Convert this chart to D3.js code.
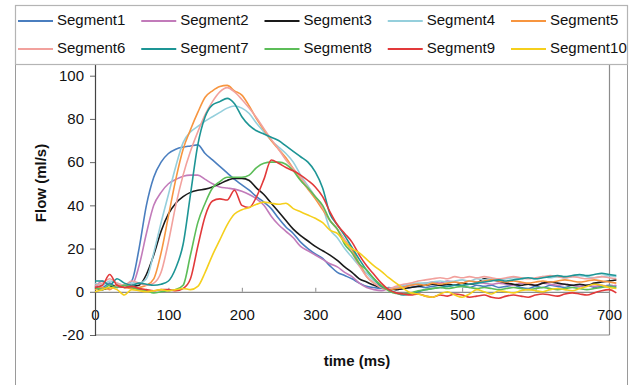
<!DOCTYPE html>
<html>
<head>
<meta charset="utf-8">
<script src="https://cdn.jsdelivr.net/npm/d3@7"></script>
<style>
  html, body { margin: 0; padding: 0; background: #fff; }
  svg { display: block; font-family: "Liberation Sans", Arial, sans-serif; }
</style>
</head>
<body>
<svg id="chart" width="639" height="385"></svg>
<script>
// ---- Data ----
const timeMs = d3.range(0, 711, 10);

const segment1 = [3,2,4,2,3,5,20,40,53,60,64,66,67,67.5,68,64,61,58,55,52,49.5,47,44,41.5,38.5,34,30,27,23,20,17.5,15.5,12,9,7.5,6,4,2.5,2,1.5,2,1,1.5,2,2.5,2,2.5,3,2.5,3,2.5,2,3,2.5,3,2,2.5,3,2,1.5,2.5,2,3,2.5,2,3,2.5,3,2,2.5,3,2.5];
const segment2 = [2,5,3,2,3,3,12,27,40,46,50,52,53.5,54,54,52,50,48.5,48,47.5,46.5,45,43,40,35,31,28,25,21,19,17,15,13,11.5,9,7,4,2,1,0.5,1.5,2,2.5,3,3.5,4,4.5,4,5,4.5,4,5,4.5,4,3.5,4,3.5,3,4,3.5,3,4,3.5,3,3.5,3,2.5,3,2.5,3,2.5,3];
const segment3 = [2,1,2,3,2,2.5,3,8,17,28,36,41,44,46,47,47.5,48.5,50,51.5,52.5,52.5,51.5,48,45,41,37,33,29,26,23.5,21,19,17,14.5,11.5,9,6,4.5,3,2,1.5,1,1.5,2,2.5,3,3.5,3,3.5,3,4,3.5,4,6,5.5,5,4,3.5,3,3.5,3,4,4.5,4,3.5,3,3.5,3,4,4.5,5,5.5];
const segment4 = [4,3,5,4,3,4,4,6,18,32,45,58,69,74,76.5,79,81,83,85,86,85,82.5,78,74,70,67,64,60,54,49,44,39,29,25,20,16,12,8.5,5,2.5,1.5,2,3,3.5,4,4,4.5,5,4.5,5,5.5,5,6,5.5,6,5.5,6,6.5,6,6.5,6,7,6.5,7,6.5,7,7.5,7,6.5,7,7.5,7];
const segment5 = [1,2,1,3,2,1.5,2,3,6,18,35,52,66,75,83,90,93,95,95.5,93,91,86,80,75,70,66,62,57,52,47.5,43,38,33,29,24,19.5,13,7,4,2,1,1.5,2,3,3.5,3,4,3.5,4,4.5,4,5,4.5,5,5.5,5,4.5,5,4.5,4,4.5,5,4.5,5,5.5,5,4.5,5,5.5,5,4.5,4];
const segment6 = [3,4,6,4,3,5,4,3,4,9,23,40,54,65,74,82,88,92.5,94.5,92.5,89,85,80.5,75.5,70.5,66,61,57,53,48,44,39,33,29,24,18,12,7,4,2,1.5,2.5,3.5,4,5,5.5,6,6.5,6,7,6.5,7,6.5,7,6.5,6,6.5,7,6.5,6,6.5,7,7.5,7,6.5,7,6.5,6,6.5,7,6.5,6];
const segment7 = [5,5,3,6,4,3,4,3.5,3,3.5,5,11,22,45,68,81,86.5,88,89.5,87,81,77,74.5,73,71.5,70,67.5,65,62.5,60,55.5,48,36,31,26,20.5,15,10,6,2.5,1,-0.5,-1.5,-1,0,1,1.5,2,2.5,3,3,3.5,4,4.5,5,5.5,5,5.5,6,6.5,6,6.5,7,7.5,7,7.5,8,7.5,8,8.5,8,7.5];
const segment8 = [2,1,3,2,3,2,1,0.5,-0.5,0,0.5,1,3,17,32,41,48,51,53,53,53,54,57.5,59.5,60,60,59,56,51.5,48,44,40,33,29,22,18,13,10,6,3,0.5,-0.8,-1,-0.5,0.5,1,1.5,2,1.5,2,2.5,2,1.5,2,1.5,1,1.5,2,1.5,1,1.5,2,1.5,1,1.5,2,1.5,1,1.5,2,2.5,2];
const segment9 = [2,3,8,3,2,2.5,1.5,1,0.5,1,1,0.5,1.5,6,21,35,42,43,42.5,47,40,39,44,52,61,59.5,57.5,56,54,51.5,48.5,44,37,31,27,23,17,12,8,4,1,-0.5,-1,-1.5,-1,-2,-2.5,-1.5,-2,-1,-1.5,-2.5,-2,-1.5,-2.5,-3,-2,-1.5,-2,-2.5,-1.5,-1,-1.5,-2,-1,-0.5,-1,-1.5,-0.5,0.5,1,-0.5];
const segment10 = [0,1,2,1,-1.5,1,0.5,0,0.5,1,0.5,1,1.5,1,2.5,9,17,24,31,36,38,39,40.5,41.5,41,40.5,41,38.5,37,35.5,34,32,28.5,27,23,20,18,15,12,9.5,6.5,4,1.5,-0.5,-1,-2,-2.5,-1,0,-1.5,-2.5,-1,1,0,-1,0.5,0,-0.5,0.5,1,0.5,0,1,1.5,1,0.5,1.5,2.5,3.5,3,2,1.5];

const seriesNames = ["Segment1","Segment2","Segment3","Segment4","Segment5","Segment6","Segment7","Segment8","Segment9","Segment10"];
const seriesValues = [segment1,segment2,segment3,segment4,segment5,segment6,segment7,segment8,segment9,segment10];
const seriesColors = ["#4a7ebf","#c27bba","#1a1a1a","#95cfdc","#f7953f","#f2a19d","#1d9595","#5cbd58","#e2393a","#f5cf1c"];

const xTicks = [0,100,200,300,400,500,600,700];
const yTicks = [-20,0,20,40,60,80,100];

// ---- Layout ----
const svg = d3.select("#chart");
const font = "\"Liberation Sans\", Arial, sans-serif";

const x = d3.scaleLinear().domain([0, 700]).range([95, 609]);
const y = d3.scaleLinear().domain([-20, 100]).range([335, 75.7]);
const plotTop = 65;

// outer chart frame
svg.append("rect").attr("x", 15.5).attr("y", 5.5).attr("width", 612).attr("height", 400)
  .attr("fill", "#fff").attr("stroke", "#9a9a9a").attr("stroke-width", 1);

// plot frame (right and bottom)
svg.append("line").attr("x1", 609.5).attr("x2", 609.5).attr("y1", plotTop).attr("y2", y(-20))
  .attr("stroke", "#8c8c8c").attr("stroke-width", 1.2);
svg.append("line").attr("x1", 95).attr("x2", 609.5).attr("y1", y(-20)).attr("y2", y(-20))
  .attr("stroke", "#8c8c8c").attr("stroke-width", 1.2);

// x axis along y = 0
const xAxis = d3.axisBottom(x).tickValues(xTicks).tickFormat(d => String(d))
  .tickSizeInner(-4).tickSizeOuter(0).tickPadding(18);
const gx = svg.append("g").attr("transform", `translate(0,${y(0)})`).call(xAxis);
gx.select(".domain").attr("stroke", "#8c8c8c").attr("stroke-width", 1.2);
gx.selectAll(".tick line").attr("stroke", "#8c8c8c");
gx.selectAll(".tick text").attr("font-size", 15).attr("font-family", font).attr("fill", "#111");

// y axis
const yAxis = d3.axisLeft(y).tickValues(yTicks).tickFormat(d => String(d))
  .tickSizeInner(5).tickSizeOuter(0).tickPadding(6);
const gy = svg.append("g").attr("transform", "translate(95,0)").call(yAxis);
gy.select(".domain").remove();
gy.selectAll(".tick line").attr("stroke", "#666");
gy.selectAll(".tick text").attr("font-size", 15).attr("font-family", font).attr("fill", "#111");
svg.append("line").attr("x1", 95.5).attr("x2", 95.5).attr("y1", plotTop).attr("y2", y(-20) + 1)
  .attr("stroke", "#444").attr("stroke-width", 1.2);

// lines
const line = d3.line().x((d, i) => x(timeMs[i])).y(d => y(d)).curve(d3.curveMonotoneX);
svg.append("g").selectAll("path").data(seriesValues).join("path")
  .attr("d", line)
  .attr("fill", "none")
  .attr("stroke", (d, i) => seriesColors[i])
  .attr("stroke-width", 1.6)
  .attr("stroke-linejoin", "round");

// axis titles
svg.append("text").attr("transform", "translate(42,183) rotate(-90)")
  .attr("text-anchor", "middle").attr("dominant-baseline", "middle")
  .attr("font-size", 15).attr("font-weight", "bold").attr("font-family", font).attr("fill", "#111")
  .text("Flow (ml/s)");
svg.append("text").attr("x", 357).attr("y", 362)
  .attr("text-anchor", "middle").attr("dominant-baseline", "middle")
  .attr("font-size", 15).attr("font-weight", "bold").attr("font-family", font).attr("fill", "#111")
  .text("time (ms)");

// legend
svg.append("rect").attr("x", 15.5).attr("y", 5.5).attr("width", 612).attr("height", 59)
  .attr("fill", "#fff").attr("stroke", "#b4b4b4").attr("stroke-width", 1.2);
const legendX = d3.scalePoint().domain(d3.range(5)).range([18, 511]);
const legendRowY = [21, 49];
const lg = svg.append("g").selectAll("g").data(seriesNames).join("g")
  .attr("transform", (d, i) => `translate(${legendX(i % 5)},${legendRowY[Math.floor(i / 5)]})`);
lg.append("line").attr("x1", 0).attr("x2", 35).attr("y1", 0).attr("y2", 0)
  .attr("stroke", (d, i) => seriesColors[i]).attr("stroke-width", 2);
lg.append("text").attr("x", 39).attr("y", 0).attr("dominant-baseline", "middle")
  .attr("font-size", 15).attr("font-family", font).attr("fill", "#111")
  .text(d => d);
</script>
</body>
</html>
